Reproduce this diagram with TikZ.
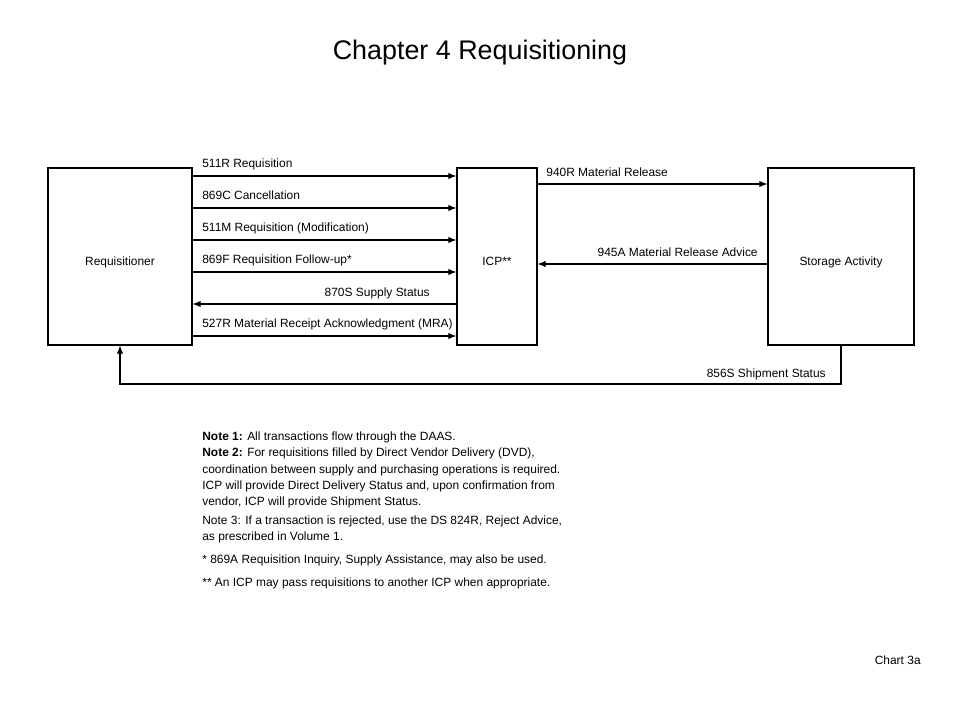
\documentclass[tikz,border=0pt]{standalone}
\usepackage{fontspec}
\setmainfont{Liberation Sans}
\usetikzlibrary{arrows.meta,positioning}
\newcommand\pxunit{0.02}
\tikzset{actor/.style={rectangle,draw=black,line width=0.6pt,inner sep=0pt, minimum height=177*\pxunit cm}}
\tikzset{msg/.style={font=\fontsize{6.8}{8}\selectfont, inner sep=0pt}}
\tikzset{actorlabel/.style={font=\fontsize{6.8}{8}\selectfont, inner sep=0pt, anchor=base}}
\tikzset{arrow/.style={line width=0.6pt,-{Latex[length=4.6pt,width=3.6pt]}}}

\begin{document}
\begin{tikzpicture}[x=\pxunit cm, y=-\pxunit cm]
\useasboundingbox (0,0) rectangle (960,720);
\node[font=\fontsize{15.3}{18}\selectfont, inner sep=0pt, anchor=base] (title) at (480,59.5) {Chapter 4 Requisitioning};

\node[actor, minimum width=144*\pxunit cm] (req) at (120,256.5) {};
\node[actor, minimum width=80*\pxunit cm] (icp) at (497,256.5) {};
\node[actor, minimum width=146*\pxunit cm] (store) at (841,256.5) {};
\node[actorlabel] (reqtxt) at (120,265) {Requisitioner};
\node[actorlabel] (icptxt) at (497,265) {ICP**};
\node[actorlabel] (storetxt) at (841,265) {Storage Activity};

% requisitioner -> ICP
\foreach \lab/\yy [count=\i] in {{511R Requisition}/176, {869C Cancellation}/208, {511M Requisition (Modification)}/240, {869F Requisition Follow-up*}/272, {527R Material Receipt Acknowledgment (MRA)}/336} {
	\draw[arrow] (req.east |- 0,\yy) -- (icp.west |- 0,\yy);
	\node[msg, anchor=base west] (reqmsg\i) at (202,\yy-8.5) {\lab};
}
\draw[arrow] (icp.west |- 0,304) -- (req.east |- 0,304);
\node[msg, anchor=base east] (supstat) at (430,296.5) {870S Supply Status};

% ICP <-> storage
\draw[arrow] (icp.east |- 0,184) -- (store.west |- 0,184);
\node[msg, anchor=base west] (release) at (546,176.5) {940R Material Release};
\draw[arrow] (store.west |- 0,264) -- (icp.east |- 0,264);
\node[msg, anchor=base east] (advice) at (758,256.5) {945A Material Release Advice};

% shipment status back to requisitioner
\coordinate (shipbase) at (0,384);
\draw[arrow] (store.south) -- (store.south |- shipbase) -| (req.south);
\node[msg, anchor=base east] (shipstat) at (826,377.3) {856S Shipment Status};

% notes
\foreach \yy/\txt [count=\i] in {440.5/{\textbf{Note 1:} All transactions flow through the DAAS.},
	456.5/{\textbf{Note 2:} For requisitions filled by Direct Vendor Delivery (DVD),},
	473/{coordination between supply and purchasing operations is required.},
	489.3/{ICP will provide Direct Delivery Status and, upon confirmation from},
	505.6/{vendor, ICP will provide Shipment Status.},
	524.3/{Note 3: If a transaction is rejected, use the DS 824R, Reject Advice,},
	540.6/{as prescribed in Volume 1.},
	563.3/{* 869A Requisition Inquiry, Supply Assistance, may also be used.},
	586.3/{** An ICP may pass requisitions to another ICP when appropriate.}} {
	\node[msg, anchor=base west] (note\i) at (202,\yy) {\txt};
}
\node[msg, anchor=base east] (chart) at (921,664) {Chart 3a};
\end{tikzpicture}
\end{document}
